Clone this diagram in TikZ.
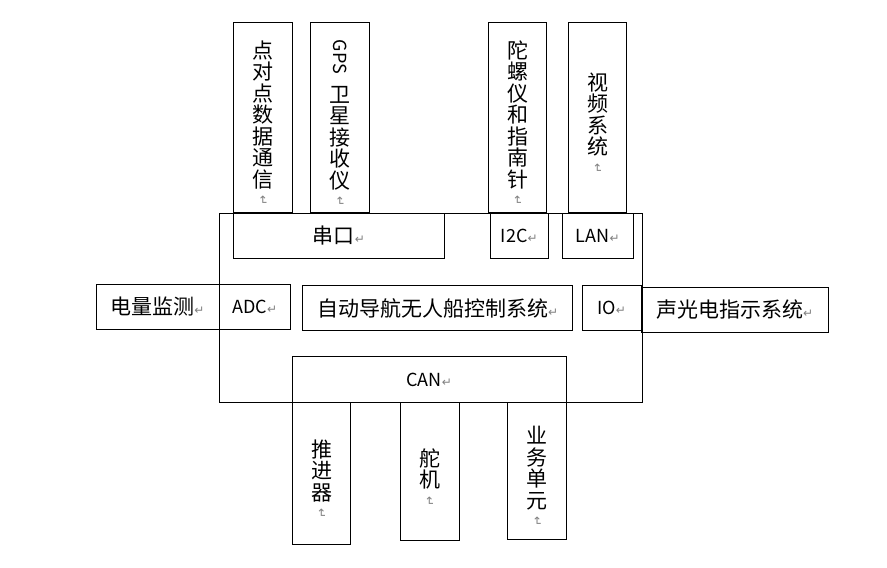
\documentclass[tikz,border=0pt]{standalone}
\usepackage{fontspec}
\usepackage{graphicx}
\setmainfont{Noto Sans CJK SC}
\newfontfamily\markfont{DejaVu Sans}
\newcommand{\retmark}{{\markfont\fontsize{12}{12}\selectfont\textcolor{gray}{↵}}}
\newcommand{\retmarkv}{\raisebox{\depth}{\rotatebox{-90}{\retmark}}}

\begin{document}
\begin{tikzpicture}[
    x=1pt, y=-1pt,
    blk/.style={draw, line width=0.8pt, inner sep=0pt},
    vtxt/.style={align=center, inner sep=0pt, yshift=-6pt, font=\fontsize{21}{21.5}\selectfont},
    htxt/.style={font=\fontsize{21}{24}\selectfont},
    ltxt/.style={font=\fontsize{18}{20}\selectfont}
]
    \useasboundingbox (0,0) rectangle (887,568);

    % --- Control unit frame ---
    \node[blk, minimum width=423, minimum height=189.5] (frame) at (430.5,307.75) {};

    % --- Top devices ---
    \node[blk, minimum width=59, minimum height=190] (p2p) at (262.8,117.3) {};
    \node[blk, minimum width=58.3, minimum height=190] (gps) at (339.9,117.3) {};
    \node[blk, minimum width=58.4, minimum height=190] (gyro) at (517.5,117) {};
    \node[blk, minimum width=58.4, minimum height=190] (video) at (597.5,117) {};
    \node[vtxt] (p2p-t) at (p2p.center) {点\\对\\点\\数\\据\\通\\信\\[-3pt]\retmarkv};
    \node[vtxt] (gps-t) at (gps.center)
        {\raisebox{\depth}{\fontsize{18}{18}\selectfont\rotatebox{-90}{GPS}}\\[7pt]卫\\星\\接\\收\\仪\\[-3pt]\retmarkv};
    \node[vtxt] (gyro-t) at (gyro.center) {陀\\螺\\仪\\和\\指\\南\\针\\[-3pt]\retmarkv};
    \node[vtxt] (video-t) at (video.center) {视\\频\\系\\统\\[-3pt]\retmarkv};

    % --- Top ports ---
    \node[blk, htxt, minimum width=211, minimum height=45.3] (serial) at (338.8,235.65) {串口\retmark};
    \node[blk, ltxt, minimum width=58.3, minimum height=45.3] (i2c) at (519.15,235.65) {I2C\retmark};
    \node[blk, ltxt, minimum width=71, minimum height=45.3] (lan) at (597.8,235.65) {LAN\retmark};

    % --- Middle row ---
    \node[blk, htxt, minimum width=123, minimum height=45] (power) at (157.5,306.5) {电量监测\retmark};
    \node[blk, ltxt, minimum width=71.7, minimum height=45] (adc) at (254.85,306.5) {ADC\retmark};
    \node[blk, htxt, minimum width=270, minimum height=45] (ctrl) at (437.7,308.2) {自动导航无人船控制系统\retmark};
    \node[blk, ltxt, minimum width=59, minimum height=45] (io) at (611.5,308.2) {IO\retmark};
    \node[blk, htxt, minimum width=187.3, minimum height=45] (sound) at (734.65,309.8) {声光电指示系统\retmark};

    % --- Bus and bottom devices ---
    \node[blk, ltxt, minimum width=273.7, minimum height=45.8] (can) at (429.15,379.6) {CAN\retmark};
    \node[blk, minimum width=58.4, minimum height=141.8] (thruster) at (321.5,473.4) {};
    \node[blk, minimum width=59, minimum height=137.5] (rudder) at (429.5,471.25) {};
    \node[blk, minimum width=59, minimum height=136.5] (business) at (537.2,470.75) {};
    \node[vtxt] (thruster-t) at (thruster.center) {推\\进\\器\\[-3pt]\retmarkv};
    \node[vtxt] (rudder-t) at (rudder.center) {舵\\机\\[-3pt]\retmarkv};
    \node[vtxt] (business-t) at (business.center) {业\\务\\单\\元\\[-3pt]\retmarkv};

\end{tikzpicture}
\end{document}
